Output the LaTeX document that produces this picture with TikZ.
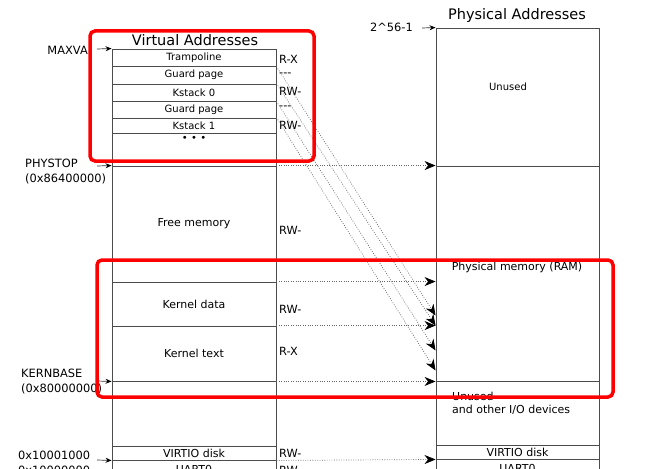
\documentclass[tikz,border=0pt]{standalone}
\usepackage{fontspec}
\setmainfont{DejaVu Sans}
\usetikzlibrary{calc, arrows.meta}
\tikzset{
  seg/.style={draw=black!70, line width=0.9pt, inner sep=0pt, minimum width=164pt},
  small/.style={font=\fontsize{10}{12}\selectfont},
  big/.style={font=\fontsize{11}{13}\selectfont},
  lbl/.style={font=\fontsize{11.4}{15}\selectfont, inner sep=0pt},
  perm/.style={font=\fontsize{11.3}{13}\selectfont, anchor=west, inner sep=0pt},
  ttl/.style={font=\fontsize{14.5}{16}\selectfont},
  ptr/.style={-{Stealth[length=6pt,width=5pt,color=black]}, line width=0.7pt, black!80},
  map/.style={black!60, line width=0.7pt, dash pattern=on 0.8pt off 1.6pt, -{Stealth[length=11pt,width=9pt,inset=3.5pt,color=black]}},
  hl/.style={draw=red, line width=3.5pt, rounded corners=5pt}
}
\begin{document}
\begin{tikzpicture}[x=1pt,y=-1pt]
\useasboundingbox (0,0) rectangle (663,468);
\clip (0,0) rectangle (663,468);
\node[ttl] (vtitle) at (195,40) {Virtual Addresses};
\node[ttl] (ptitle) at (517,16) {Physical Addresses};
\node[seg, small, minimum height=17pt] (tramp) at (194,57.5) {Trampoline};
\node[seg, small, minimum height=18pt] (guard0) at (194,75) {Guard page};
\node[seg, small, minimum height=17pt] (kstack0) at (194,92.5) {Kstack 0};
\node[seg, small, minimum height=17pt] (guard1) at (194,109.5) {Guard page};
\node[seg, small, minimum height=15pt] (kstack1) at (194,125.5) {Kstack 1};
\node[seg, minimum height=33pt] (vmore) at (194,149.5) {};
\node[small] (dots) at (194,139) {•\,\,•\,\,•};
\node[seg, big, minimum height=116pt] (free) at (194,224) {Free memory};
\node[seg, big, minimum height=44pt] (kdata) at (194,304) {Kernel data};
\node[seg, big, minimum height=55pt] (ktext) at (194,353.5) {Kernel text};
\node[seg, minimum height=65pt] (vgap) at (194,413.5) {};
\node[seg, big, minimum height=14pt] (vvirtio) at (194,453) {VIRTIO disk};
\node[seg, big, minimum height=18pt] (vuart) at (194,469) {UART0};
\node[seg, minimum width=163pt, minimum height=138pt] (punused) at (517.5,97) {};
\node[seg, minimum width=163pt, minimum height=215pt] (ram) at (517.5,273.5) {};
\node[seg, minimum width=163pt, minimum height=64pt] (pio) at (517.5,413) {};
\node[seg, big, minimum width=163pt, minimum height=14pt] (pvirtio) at (517.5,452) {VIRTIO disk};
\node[seg, big, minimum width=163pt, minimum height=18pt] (puart) at (517.5,468) {UART0};
\node[small] (unusedtxt) at (508,87) {Unused};
\node[big] (ramtxt) at (517,267) {Physical memory (RAM)};
\node[big, align=left, anchor=west, inner sep=0pt] (iotxt) at (452,403.5) {Unused\\and other I/O devices};
\node[perm] (p1) at (279,59) {R-X};
\node[perm] (p2) at (279,75) {-{}-{}-};
\node[perm] (p3) at (279,91) {RW-};
\node[perm] (p4) at (279,108) {-{}-{}-};
\node[perm] (p5) at (279,125) {RW-};
\node[perm] (p6) at (279,230) {RW-};
\node[perm] (p7) at (279,309) {RW-};
\node[perm] (p8) at (279,351) {R-X};
\node[perm] (p9) at (279,453) {RW-};
\node[perm] (p10) at (279,470) {RW-};
\node[lbl, anchor=east] (maxva) at (88,50) {MAXVA};
\node[lbl, anchor=east] (top) at (413,27) {2\textasciicircum{}56-1};
\node[lbl, align=left, anchor=west] (phystop) at (25,171.5) {PHYSTOP\\(0x86400000)};
\node[lbl, align=left, anchor=west] (kernbase) at (21,382) {KERNBASE\\(0x80000000)};
\node[lbl, align=left, anchor=west] (virtio) at (18,462.5) {0x10001000\\0x10000000};
\coordinate (maxvatail) at (97,49);
\coordinate (toptail) at (422,28);
\coordinate (phystoptail) at (97,166);
\coordinate (kernbasetail) at (97,381);
\coordinate (virtiotail) at (97,460);
\draw[ptr] (maxvatail) -- (tramp.north west);
\draw[ptr] (toptail) -- (punused.north west);
\draw[ptr] (phystoptail) -- (free.north west);
\draw[ptr] (kernbasetail) -- (ktext.south west);
\draw[ptr] (virtiotail) -- (vvirtio.south west);
\draw[map] (free.north east) -- (ram.north west);
\draw[map] (kdata.north east) -- (kdata.north east -| ram.west);
\draw[map] (ktext.north east) -- (ktext.north east -| ram.west);
\draw[map] (ktext.south east) -- (ram.south west);
\draw[map] (vvirtio.south east) -- (pvirtio.south west);
\draw[map] (tramp.south east) -- ($(ram.south west)+(0,-66)$);
\draw[map] (kstack0.north east) -- (ktext.north east -| ram.west);
\draw[map] (kstack0.south east) -- ($(ram.south west)+(0,-31)$);
\draw[map] (kstack1.north east) -- ($(ram.south west)+(0,-11)$);
\draw[hl] (90,31) rectangle (314,161);
\draw[hl] (97,260) rectangle (613,397);
\end{tikzpicture}
\end{document}
